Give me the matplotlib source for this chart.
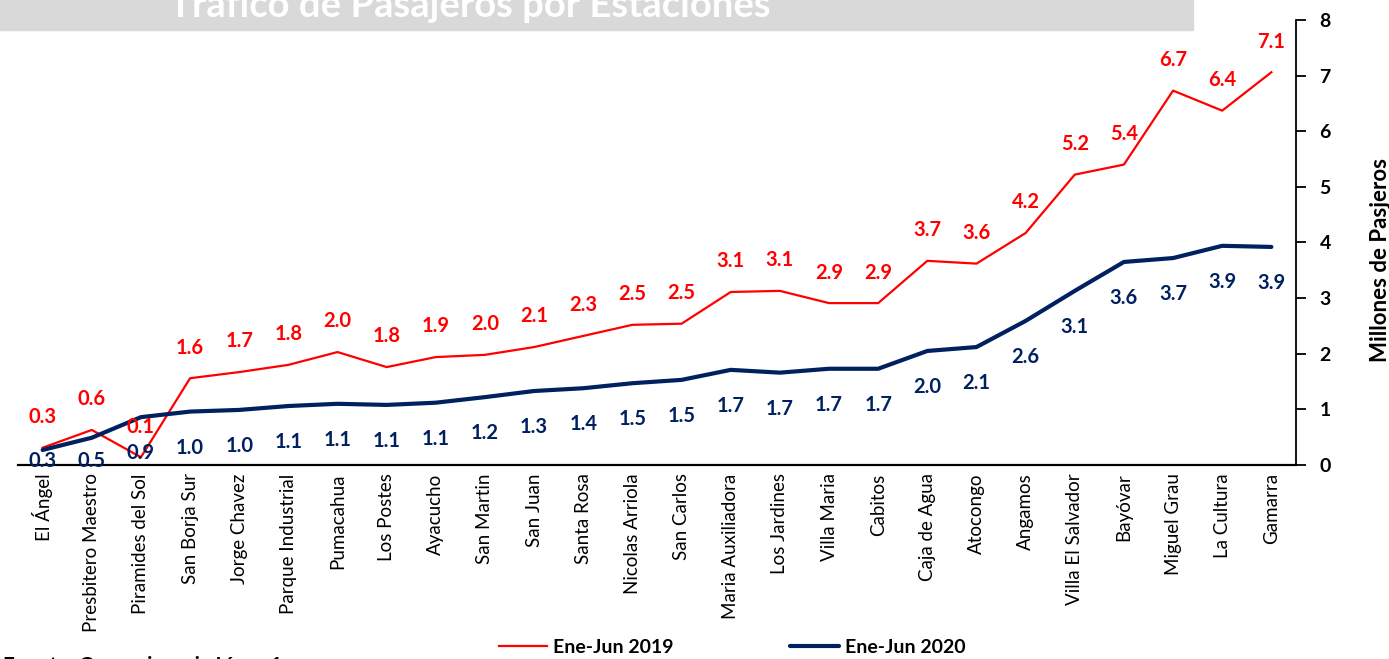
import matplotlib.pyplot as plt
from matplotlib.patches import Rectangle
import numpy as np

plt.rcParams['font.family'] = ['Lato', 'DejaVu Sans']

# Stations and passenger traffic (millions)
stations = ['El Ángel', 'Presbitero Maestro', 'Piramides del Sol', 'San Borja Sur',
            'Jorge Chavez', 'Parque Industrial', 'Pumacahua', 'Los Postes', 'Ayacucho',
            'San Martin', 'San Juan', 'Santa Rosa', 'Nicolas Arriola', 'San Carlos',
            'Maria Auxiliadora', 'Los Jardines', 'Villa Maria', 'Cabitos', 'Caja de Agua',
            'Atocongo', 'Angamos', 'Villa El Salvador', 'Bayóvar', 'Miguel Grau',
            'La Cultura', 'Gamarra']
traffic_2019 = [0.31, 0.63, 0.14, 1.56, 1.67, 1.80, 2.03, 1.76, 1.94, 1.98, 2.12, 2.32,
                2.52, 2.54, 3.11, 3.13, 2.91, 2.91, 3.67, 3.62, 4.17, 5.22, 5.40, 6.73,
                6.37, 7.06]
traffic_2020 = [0.27, 0.49, 0.86, 0.96, 0.99, 1.06, 1.10, 1.08, 1.12, 1.22, 1.33, 1.38,
                1.47, 1.53, 1.71, 1.66, 1.73, 1.73, 2.05, 2.12, 2.59, 3.13, 3.65, 3.72,
                3.94, 3.92]

RED = '#FF0000'
NAVY = '#002060'

fig = plt.figure(figsize=(13.89, 6.59), dpi=100)
ax = fig.add_axes([0.013, 0.2944, 0.920, 0.6753])

x = np.arange(len(stations))
ax.plot(x, traffic_2019, color=RED, lw=1.6, label='Ene-Jun 2019')
ax.plot(x, traffic_2020, color=NAVY, lw=3.0, label='Ene-Jun 2020', solid_capstyle='round')

# data labels
for xi, v in zip(x, traffic_2019):
    ax.text(xi, v + 0.55, f'{v:.1f}', color=RED, fontsize=14.5, fontweight='bold',
            ha='center', va='center')
for xi, v in zip(x, traffic_2020):
    ax.text(xi, max(v - 0.65, 0.07), f'{v:.1f}', color=NAVY, fontsize=14.5,
            fontweight='bold', ha='center', va='center')

ax.set_xlim(-0.5, len(stations) - 0.5)
ax.set_ylim(0, 8)
ax.set_xticks(x)
ax.set_xticklabels(stations, rotation=90, fontsize=13.5)
ax.tick_params(axis='x', length=0, pad=6)

ax.yaxis.tick_right()
ax.yaxis.set_label_position('right')
ax.set_yticks(range(0, 9))
ax.tick_params(axis='y', direction='out', length=7, width=1.3, labelsize=14, pad=10)
for lbl in ax.get_yticklabels():
    lbl.set_fontweight('bold')
ax.set_ylabel('Millones de Pasjeros', fontsize=16, fontweight='bold', va='center')
ax.yaxis.set_label_coords(1.066, 0.46)

for side in ['left', 'top']:
    ax.spines[side].set_visible(False)
ax.spines['right'].set_linewidth(1.3)
ax.spines['bottom'].set_linewidth(1.6)

# title banner, cut at the top edge
fig.patches.append(Rectangle((0, 1 - 30 / 659), 1193 / 1389, 30 / 659,
                             transform=fig.transFigure, color='#D9D9D9', zorder=0))
fig.text(0.338, 1 - 17 / 659, 'Tráfico de Pasajeros por Estaciones', color='white',
         fontsize=27.5, fontweight='bold', ha='center', va='baseline')

fig.legend(loc='center', bbox_to_anchor=(0.527, 0.017), ncol=2, frameon=False,
           prop={'size': 14, 'weight': 'bold'}, columnspacing=6.0, handlelength=2.5,
           handletextpad=0.3)

fig.text(0.002, 1 - 656 / 659, 'Fuente: Concesionaria Línea 1', fontsize=15,
         fontweight='bold', va='top')

fig.savefig('out.png', dpi=100)
